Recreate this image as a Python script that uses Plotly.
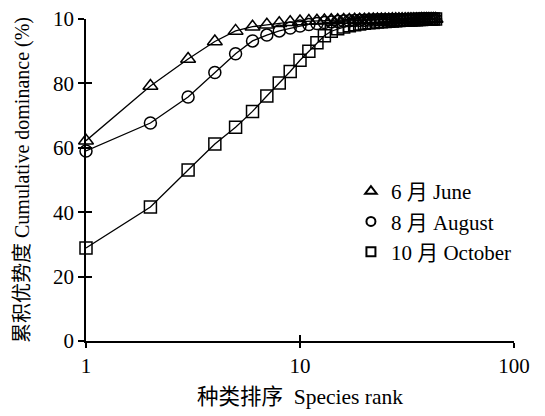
import plotly.graph_objects as go

rank = list(range(1, 44))

june = [62.2, 79.2, 87.6, 93.0, 96.3, 97.6, 98.2, 98.7, 99.0, 99.2,
        99.35, 99.45, 99.55, 99.6, 99.65, 99.7, 99.72, 99.75, 99.78, 99.8,
        99.82, 99.84, 99.85, 99.86, 99.87, 99.88, 99.89, 99.9, 99.91, 99.92,
        99.93, 99.94, 99.95, 99.95, 99.96, 99.96, 99.97, 99.97, 99.98, 99.98,
        99.99, 99.99, 100.0]
august = [59.0, 67.7, 75.8, 83.4, 89.2, 93.2, 95.0, 96.3, 97.2, 97.8,
          98.3, 98.6, 98.9, 99.1, 99.25, 99.35, 99.45, 99.52, 99.58, 99.63,
          99.67, 99.7, 99.73, 99.76, 99.78, 99.8, 99.82, 99.84, 99.86, 99.87,
          99.88, 99.9, 99.91, 99.92, 99.93, 99.94, 99.95, 99.96, 99.97, 99.98,
          99.98, 99.99, 100.0]
october = [28.9, 41.6, 53.1, 61.2, 66.4, 71.3, 76.1, 80.1, 83.7, 87.2,
           90.0, 92.6, 94.8, 96.2, 97.0, 97.5, 97.9, 98.2, 98.45, 98.65,
           98.8, 98.95, 99.05, 99.15, 99.25, 99.33, 99.4, 99.47, 99.53, 99.58,
           99.63, 99.68, 99.72, 99.76, 99.8, 99.84, 99.87, 99.9, 99.92, 99.94,
           99.96, 99.98, 100.0]

series_names = ["6 月 June", "8 月 August", "10 月 October"]
series_symbols = ["triangle-up-open", "circle-open", "square-open"]
series_data = [june, august, october]
series_sizes = [13, 12, 12]
legend_sizes = [10, 9, 9]

y_tickvals = [0, 20, 40, 60, 80, 100]
y_ticktext = ["0", "20", "40", "60", "80", "10"]
x_tickvals = [1, 10, 100]
x_ticktext = ["1", "10", "100"]

font_fam = "Liberation Serif, Times New Roman, Noto Sans CJK SC, serif"

fig = go.Figure()
for name, sym, data, sz in zip(series_names, series_symbols, series_data, series_sizes):
    fig.add_trace(go.Scatter(
        x=rank, y=data, mode="lines+markers", showlegend=False, cliponaxis=False,
        line=dict(color="black", width=1.3),
        marker=dict(symbol=sym, size=sz, color="black",
                    line=dict(color="black", width=1.5)),
    ))
for name, sym, sz in zip(series_names, series_symbols, legend_sizes):
    fig.add_trace(go.Scatter(
        x=[None], y=[None], mode="markers", name=name,
        marker=dict(symbol=sym, size=sz, color="black",
                    line=dict(color="black", width=2)),
    ))

# overlay axes for inward tick halves (crossing ticks)
fig.add_trace(go.Scatter(x=[1], y=[0], xaxis="x2", yaxis="y2", mode="markers",
                         marker=dict(opacity=0), showlegend=False, hoverinfo="skip"))

fig.update_layout(
    width=537, height=408,
    margin=dict(l=78, r=31, t=11, b=75, autoexpand=False),
    plot_bgcolor="white", paper_bgcolor="white",
    font=dict(family=font_fam, size=21, color="black"),
    xaxis=dict(type="log", range=[0, 2], tickvals=x_tickvals, ticktext=x_ticktext,
               showline=True, linecolor="black", linewidth=1.5,
               ticks="outside", ticklen=5, tickwidth=1.5, tickcolor="black",
               showgrid=False, zeroline=False, tickfont=dict(size=21),
               ticklabeloverflow="allow", automargin=False,
               title=dict(text="种类排序  Species rank", standoff=12,
                          font=dict(size=21.5, family=font_fam))),
    yaxis=dict(range=[0, 100], tickvals=y_tickvals, ticktext=y_ticktext,
               showline=True, linecolor="black", linewidth=1.5,
               ticks="outside", ticklen=6, tickwidth=1.5, tickcolor="black",
               showgrid=False, zeroline=False, tickfont=dict(size=21),
               ticklabeloverflow="allow", automargin=False,
               title=dict(text="累积优势度 Cumulative dominance (%)", standoff=18,
                          font=dict(size=20, family=font_fam))),
    xaxis2=dict(type="log", range=[0, 2], overlaying="x", tickvals=[10, 100],
                showticklabels=False, ticks="inside", ticklen=6, tickwidth=1.5,
                tickcolor="black", showgrid=False, zeroline=False, showline=False,
                automargin=False),
    yaxis2=dict(range=[0, 100], overlaying="y", tickvals=[20, 40, 60, 80, 100],
                showticklabels=False, ticks="inside", ticklen=6, tickwidth=1.5,
                tickcolor="black", showgrid=False, zeroline=False, showline=False,
                automargin=False),
    legend=dict(x=0.619, y=0.528, xanchor="left", yanchor="top",
                bgcolor="rgba(0,0,0,0)", font=dict(size=21, family=font_fam),
                tracegroupgap=0, itemwidth=30),
)

fig.write_html("out.html")
